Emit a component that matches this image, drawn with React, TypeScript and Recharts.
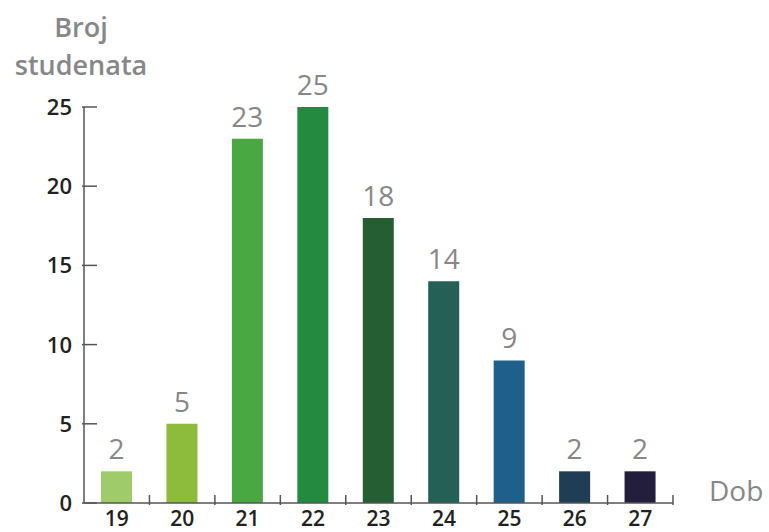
import React from "react";
import { BarChart, Bar, XAxis, YAxis, Cell, LabelList } from "recharts";

const ages = ["19", "20", "21", "22", "23", "24", "25", "26", "27"];
const students = [2, 5, 23, 25, 18, 14, 9, 2, 2];
const barColors = [
  "#9fcb6b",
  "#8dbb3c",
  "#4aa842",
  "#238a40",
  "#255e32",
  "#256057",
  "#1f5f8b",
  "#1f3d55",
  "#241e3d",
];
const yTicks = [0, 5, 10, 15, 20, 25];

const W = 769;
const H = 532;
const LEFT = 84;
const RIGHT = 96;
const TOP = 107;
const XAXIS_H = 29;
const BAND = (W - LEFT - RIGHT) / ages.length;

const font = "'Open Sans', sans-serif";
const dark = "#231f20";
const gray = "#878787";
const axisColor = "#555";

const data = ages.map((age, i) => ({ age, count: students[i], fill: barColors[i] }));

function XTick(props: any) {
  const { x, y, payload } = props;
  return (
    <g>
      <line x1={x + BAND / 2} x2={x + BAND / 2} y1={y} y2={y - 10} stroke={axisColor} strokeWidth={1.5} />
      <text x={x} y={y + 21} textAnchor="middle" fontFamily={font} fontSize={21} fontWeight={600} fill={dark}>
        {payload.value}
      </text>
    </g>
  );
}

function YTick(props: any) {
  const { x, y, payload } = props;
  return (
    <g>
      <line x1={x} x2={x + 15} y1={y} y2={y} stroke={axisColor} strokeWidth={1.5} />
      <text x={x - 10} y={y + 8} textAnchor="end" fontFamily={font} fontSize={22} fontWeight={600} fill={dark}>
        {payload.value}
      </text>
    </g>
  );
}

export default function App() {
  return (
    <div style={{ position: "absolute", left: 0, top: 0, width: W, height: H, background: "#fff" }}>
      <div
        style={{
          position: "absolute",
          left: 0,
          top: 8,
          width: 162,
          textAlign: "center",
          fontFamily: font,
          fontWeight: 600,
          fontSize: 27,
          lineHeight: "38px",
          color: gray,
        }}
      >
        Broj
        <br />
        studenata
      </div>
      <div
        style={{
          position: "absolute",
          left: 709,
          top: 470,
          fontFamily: font,
          fontSize: 28,
          lineHeight: "40px",
          color: gray,
        }}
      >
        Dob
      </div>
      <BarChart width={W} height={H} data={data} margin={{ top: TOP, right: RIGHT, left: 0, bottom: 0 }}>
        <XAxis
          dataKey="age"
          height={XAXIS_H}
          axisLine={{ stroke: axisColor, strokeWidth: 1.5 }}
          tickLine={false}
          tickSize={0}
          tick={<XTick />}
          interval={0}
        />
        <YAxis
          width={LEFT}
          domain={[0, 25]}
          ticks={yTicks}
          axisLine={{ stroke: axisColor, strokeWidth: 1.5 }}
          tickLine={false}
          tickSize={0}
          tick={<YTick />}
          interval={0}
        />
        <Bar dataKey="count" barSize={31} isAnimationActive={false}>
          {data.map((d, i) => (
            <Cell key={i} fill={d.fill} />
          ))}
          <LabelList
            dataKey="count"
            position="top"
            offset={12}
            fontFamily={font}
            fontSize={28}
            fontWeight={500}
            fill={gray}
          />
        </Bar>
      </BarChart>
    </div>
  );
}
